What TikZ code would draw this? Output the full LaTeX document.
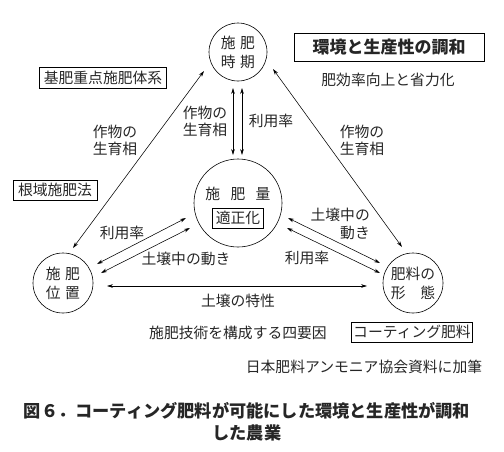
\documentclass[tikz,border=0pt]{standalone}
\usepackage{fontspec}
\setmainfont{Noto Sans CJK JP}
\usetikzlibrary{arrows.meta}
\tikzset{
  lbl/.style={inner sep=0pt, font=\fontsize{14.8}{18}\selectfont, text=black!85},
  circ/.style={draw, circle, line width=0.6pt, inner sep=0pt, font=\fontsize{14.8}{19}\selectfont, align=center, text=black!85},
  boxed/.style={draw, line width=0.7pt, inner xsep=3pt, inner ysep=0pt, minimum height=20pt, font=\fontsize{14.8}{18}\selectfont, text=black!85},
  conn/.style={line width=0.55pt, {Stealth[length=6pt,width=3.6pt]}-{Stealth[length=6pt,width=3.6pt]}}
}
\begin{document}
\begin{tikzpicture}[x=1pt,y=-1pt]
\useasboundingbox (0,0) rectangle (504,451);
% circles
\node[circ, minimum size=58pt] (top) at (238,52) {施\hspace{0.3em}肥\\時\hspace{0.3em}期};
\node[circ, minimum size=88pt] (mid) at (238,203) {};
\node[circ, minimum size=60pt] (lft) at (63,283) {施\hspace{0.3em}肥\\位\hspace{0.3em}置};
\node[circ, minimum size=60pt] (rgt) at (413,283) {肥料の\\形　態};
\node[lbl] (midtxt) at (238,194) {施\hspace{0.7em}肥\hspace{0.7em}量};
\node[boxed, minimum width=51pt, minimum height=20pt, inner xsep=0pt] (tekisei) at (238,218) {適正化};
% boxes
\node[draw, line width=0.8pt, minimum width=190pt, minimum height=28pt, inner sep=0pt, font=\fontsize{17}{20}\selectfont\bfseries, text=black!85] (kankyo) at (389,47) {環境と生産性の調和};
\node[lbl] (hikou) at (388,80) {肥効率向上と省力化};
\node[boxed, minimum width=127pt, minimum height=21pt] (kihi) at (103,78) {基肥重点施肥体系};
\node[boxed, minimum width=84pt] (konki) at (55,190) {根域施肥法};
\node[boxed, minimum width=121pt, inner xsep=1pt] (coat) at (412,332) {コーティング肥料};
\node[lbl] (yoin) at (238,333) {施肥技術を構成する四要因};
\node[lbl] (src) at (364,367) {日本肥料アンモニア協会資料に加筆};
\node[inner sep=0pt, align=center, font=\fontsize{17.2}{22}\selectfont\bfseries, text=black!85] (cap) at (247,422) {図６．コーティング肥料が可能にした環境と生産性が調和\\した農業};
% labels
\node[lbl, align=center, font=\fontsize{14.8}{17}\selectfont] (l1) at (115,140) {作物の\\生育相};
\node[lbl, align=center, font=\fontsize{14.8}{17}\selectfont] (l2) at (362,140) {作物の\\生育相};
\node[lbl, align=center, font=\fontsize{14.8}{17}\selectfont] (l3) at (205,121) {作物の\\生育相};
\node[lbl] (l4) at (271,121) {利用率};
\node[lbl] (l5) at (122,233) {利用率};
\node[lbl] (l6) at (186,259) {土壌中の動き};
\node[lbl, align=right, anchor=east, font=\fontsize{14.8}{18}\selectfont] (l7) at (370,224) {土壌中の\\動き};
\node[lbl] (l8) at (307,258) {利用率};
\node[lbl] (l9) at (238,301) {土壌の特性};
% connector end points
\coordinate (a1) at (204,71);  \coordinate (a2) at (73,248);
\coordinate (b1) at (273,69);  \coordinate (b2) at (402,247);
\coordinate (c1) at (233,88);  \coordinate (c2) at (233,155);
\coordinate (d1) at (242,88);  \coordinate (d2) at (242,155);
\coordinate (e1) at (97,264);  \coordinate (e2) at (186,218);
\coordinate (f1) at (101,273); \coordinate (f2) at (190,228);
\coordinate (g1) at (288,218); \coordinate (g2) at (380,263);
\coordinate (h1) at (287,228); \coordinate (h2) at (380,273);
\coordinate (i1) at (107,286); \coordinate (i2) at (367,286);
\draw[conn] (a1) -- (a2);
\draw[conn] (b1) -- (b2);
\draw[conn] (c1) -- (c2);
\draw[conn] (d1) -- (d2);
\draw[conn] (e1) -- (e2);
\draw[conn] (f1) -- (f2);
\draw[conn] (g1) -- (g2);
\draw[conn] (h1) -- (h2);
\draw[conn] (i1) -- (i2);
\end{tikzpicture}
\end{document}
